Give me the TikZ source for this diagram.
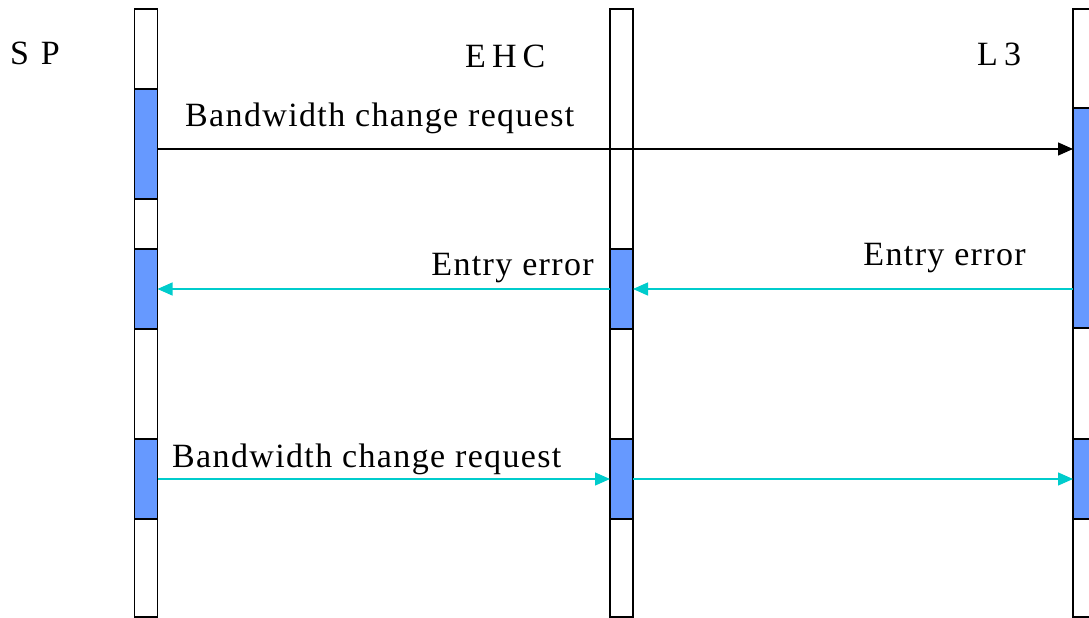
\documentclass[tikz,border=0pt]{standalone}
\usepackage{fontspec}
\setmainfont{Liberation Serif}
\newfontfamily\msgfont[LetterSpace=4]{Liberation Serif}
\newfontfamily\headfont[LetterSpace=18]{Liberation Serif}
\newfontfamily\wideheadfont[LetterSpace=35]{Liberation Serif}
\usetikzlibrary{arrows.meta}
\definecolor{actblue}{RGB}{102,153,255}
\definecolor{msgcyan}{RGB}{0,204,204}
\tikzset{
  lifeline/.style={draw=black, line width=1.5pt, fill=white, inner sep=0pt, outer sep=0pt,
    minimum width=23pt, anchor=north west},
  act/.style={draw=black, line width=1.5pt, fill=actblue, inner sep=0pt, outer sep=0pt,
    minimum width=23pt, anchor=north west},
  call/.style={draw=black, line width=1.3pt, -{Triangle[length=15pt,width=13pt]}},
  reply/.style={draw=msgcyan, line width=1.3pt, -{Triangle[length=15pt,width=13pt]}},
  head/.style={anchor=base west, inner sep=0pt, font=\fontsize{34}{40}\selectfont\headfont},
  lbl/.style={inner sep=0pt, font=\fontsize{34}{40}\selectfont\msgfont}
}
\begin{document}
\begin{tikzpicture}[x=1pt, y=-1pt]
\useasboundingbox (0,0) rectangle (1089,618);

% participant names
\node[head, font=\fontsize{34}{40}\selectfont\wideheadfont] (nsp) at (10,64) {SP};
\node[head] (nehc) at (465,67) {EHC};
\node[head] (nl3) at (977,66) {L3};

% lifelines
\node[lifeline, minimum height=608pt] (lsp) at (134.5,9) {};
\node[lifeline, minimum height=608pt] (lehc) at (610,9) {};
\node[lifeline, minimum height=608pt] (ll3) at (1073,9) {};

% activation bars
\node[act, minimum height=110pt] (sp1) at (134.5,89) {};
\node[act, minimum height=80pt] (sp2) at (134.5,249) {};
\node[act, minimum height=80pt] (sp3) at (134.5,439) {};
\node[act, minimum height=80pt] (ehc2) at (610,249) {};
\node[act, minimum height=80pt] (ehc3) at (610,439) {};
\node[act, minimum height=220pt] (l31) at (1073,108) {};
\node[act, minimum height=80pt] (l33) at (1073,439) {};

% messages
\draw[call] (sp1.east |- 0,149) -- (l31.west |- 0,149);
\draw[reply] (l31.west |- 0,289) -- (ehc2.east |- 0,289);
\draw[reply] (ehc2.west |- 0,289) -- (sp2.east |- 0,289);
\draw[reply] (sp3.east |- 0,479) -- (ehc3.west |- 0,479);
\draw[reply] (ehc3.east |- 0,479) -- (l33.west |- 0,479);

% message labels
\node[lbl, anchor=base west] (m1) at (185,126) {Bandwidth change request};
\node[lbl, anchor=base east] (m2) at (594,275) {Entry error};
\node[lbl, anchor=base east] (m3) at (1026,265) {Entry error};
\node[lbl, anchor=base west] (m4) at (172,467) {Bandwidth change request};
\end{tikzpicture}
\end{document}
